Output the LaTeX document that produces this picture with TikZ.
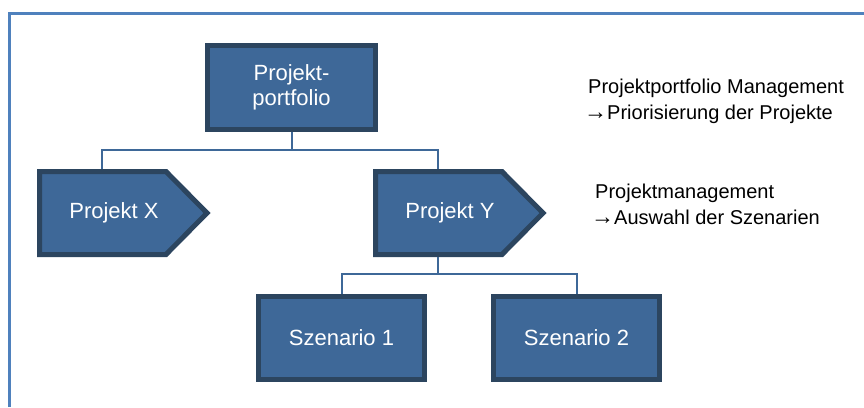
\documentclass[tikz,border=0pt]{standalone}
\usepackage{fontspec}
\setmainfont{Liberation Sans}
% arrow glyph set in a fixed-width box, text follows directly
\newcommand{\toarrow}{\makebox[19pt][l]{\hspace*{-4pt}\scalebox{1.15}{→}}}
\definecolor{boxfill}{RGB}{62,104,152}
\definecolor{boxedge}{RGB}{44,69,95}
\definecolor{linkblue}{RGB}{62,104,152}
\definecolor{framecol}{RGB}{79,129,189}
\begin{document}
\begin{tikzpicture}[x=1pt,y=-1pt,
  box/.style={draw=boxedge, fill=boxfill, line width=5pt, minimum width=168pt,
    minimum height=84pt, inner sep=0pt, text=white, align=center,
    font=\fontsize{22}{25}\selectfont},
  pent/.style={draw=boxedge, fill=boxfill, line width=5pt, line join=miter},
  boxtext/.style={inner sep=0pt, text=white, font=\fontsize{22}{25}\selectfont},
  link/.style={draw=linkblue, line width=2pt},
  note/.style={anchor=north west, inner sep=0pt, align=left,
    font=\fontsize{20}{26}\selectfont, text=black}]
  \useasboundingbox (0,0) rectangle (864,407);

  % outer frame
  \draw[framecol, line width=2.5pt] (9.5,407) -- (9.5,13.5) -- (864,13.5);

  % portfolio box
  \node[box] (pp) at (291.5,87.5) {Projekt-\\portfolio};

  % project arrows
  \draw[pent] (39.5,171.5) -- (166,171.5) -- (207,213) -- (166,254.5) -- (39.5,254.5) -- cycle;
  \node[boxtext] (px) at (114,213) {Projekt X};
  \draw[pent] (375.5,171.5) -- (502,171.5) -- (543,213) -- (502,254.5) -- (375.5,254.5) -- cycle;
  \node[boxtext] (py) at (450,213) {Projekt Y};
  \coordinate (pxin) at (102,169);
  \coordinate (pyin) at (438,169);
  \coordinate (pyout) at (438,257);

  % scenario boxes
  \node[box, minimum width=166pt, minimum height=83pt] (s1) at (341.5,338) {Szenario 1};
  \node[box, minimum width=166pt, minimum height=83pt] (s2) at (576.5,338) {Szenario 2};

  % tree connectors
  \draw[link] (pp.south) -- ++(0,18) -| (pxin);
  \draw[link] (pp.south) ++(0,18) -| (pyin);
  \draw[link] (pyout) -- ++(0,17) -| (s1.north);
  \draw[link] (pyout) ++(0,17) -| (s2.north);

  % explanations
  \node[note] (n1) at (588,78.8) {Projektportfolio Management\\\toarrow Priorisierung der Projekte};
  \node[note] (n2) at (595,183.5) {Projektmanagement\\\toarrow Auswahl der Szenarien};
\end{tikzpicture}
\end{document}
